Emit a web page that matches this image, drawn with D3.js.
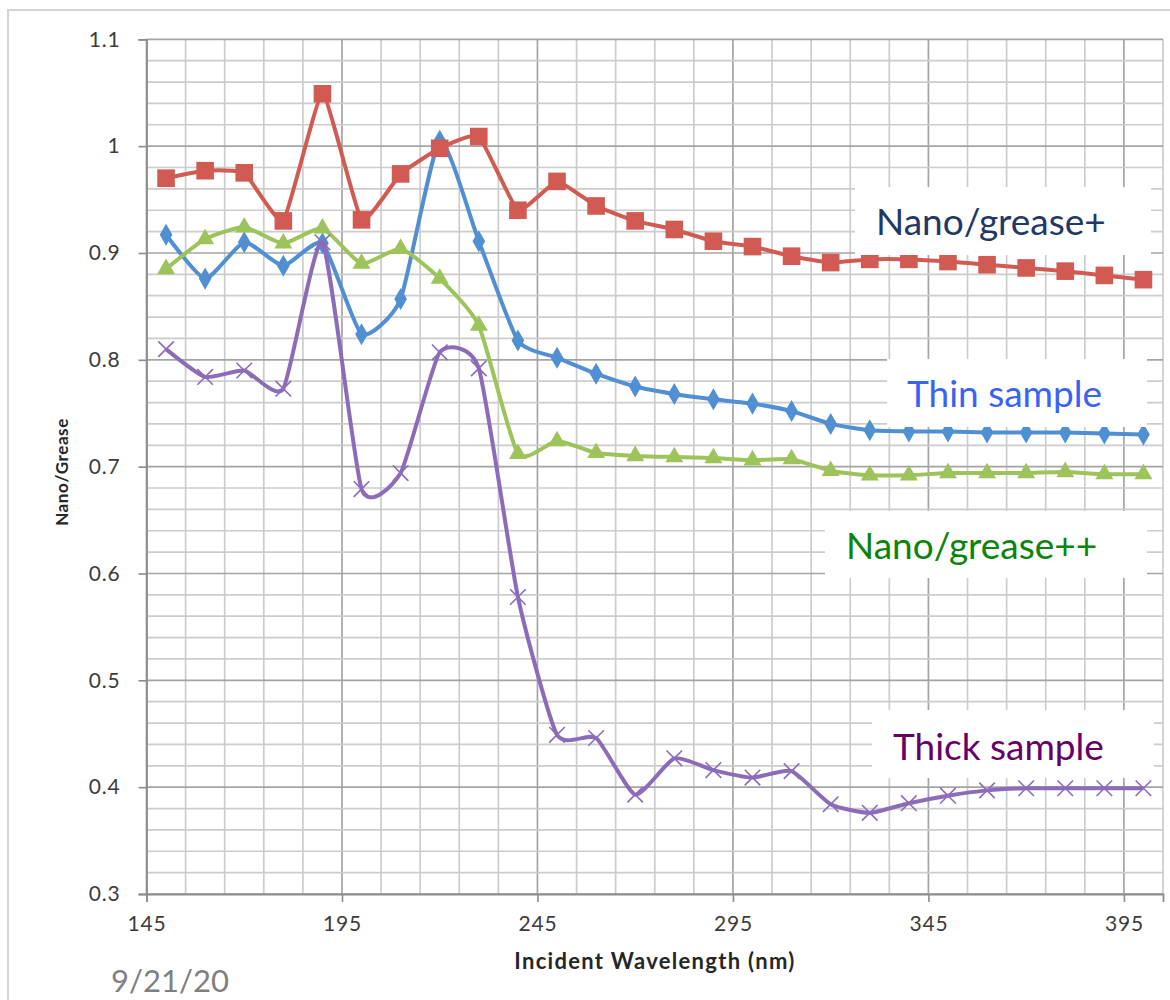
<!DOCTYPE html>
<html>
<head>
<meta charset="utf-8">
<script src="https://cdn.jsdelivr.net/npm/d3@7"></script>
<style>
  html, body { margin: 0; padding: 0; background: #fff; }
  svg { display: block; }
</style>
</head>
<body>
<svg id="chart" width="1170" height="1000"></svg>
<script>
// ---- data ----
const wavelengths = [150,160,170,180,190,200,210,220,230,240,250,260,270,280,290,300,310,320,330,340,350,360,370,380,390,400];
const thinSample  = [0.917,0.876,0.910,0.888,0.909,0.824,0.857,1.005,0.911,0.818,0.802,0.787,0.775,0.768,0.763,0.759,0.752,0.740,0.734,0.733,0.733,0.732,0.732,0.732,0.731,0.730];
const nanoPlus    = [0.970,0.977,0.975,0.930,1.049,0.931,0.974,0.998,1.009,0.940,0.967,0.944,0.930,0.922,0.911,0.906,0.897,0.891,0.894,0.894,0.892,0.889,0.886,0.883,0.879,0.875];
const nanoPlusPlus= [0.885,0.913,0.924,0.909,0.923,0.890,0.904,0.876,0.832,0.712,0.724,0.713,0.710,0.709,0.708,0.706,0.707,0.696,0.692,0.692,0.694,0.694,0.694,0.695,0.693,0.693];
const thickSample = [0.810,0.784,0.790,0.773,0.910,0.679,0.694,0.807,0.792,0.578,0.449,0.446,0.393,0.427,0.416,0.409,0.415,0.384,0.376,0.385,0.392,0.397,0.399,0.399,0.399,0.399];

const xTickLabels = [145,195,245,295,345,395];
const yTickLabels = [0.3,0.4,0.5,0.6,0.7,0.8,0.9,1.0,1.1];

const labelTexts = ["Nano/grease+","Thin sample","Nano/grease++","Thick sample"];

// ---- layout ----
const svg = d3.select("#chart");
const L = 146.5, R = 1163, T = 39.3, B = 894;
const x = d3.scaleLinear().domain([145,405]).range([L,R]);
const y = d3.scaleLinear().domain([0.3,1.1]).range([B,T]);

svg.append("rect").attr("width",1170).attr("height",1000).attr("fill","#fff");
// outer chart frame
svg.append("rect").attr("x",8).attr("y",10).attr("width",1200).attr("height",1040)
  .attr("fill","none").attr("stroke","#d4d4d4").attr("stroke-width",2);

// gridlines
const minorX = d3.range(145,406,10);
const minorY = d3.range(0,41).map(i => 0.3 + i*0.02);
const g = svg.append("g");
g.selectAll(".vx").data(minorX).join("line")
  .attr("x1",d=>x(d)).attr("x2",d=>x(d)).attr("y1",T).attr("y2",B)
  .attr("stroke", d => ((d-145)%50===0) ? "#a4a4a4" : "#cccccc")
  .attr("stroke-width",1.7);
g.selectAll(".hy").data(minorY).join("line")
  .attr("x1",L).attr("x2",R).attr("y1",d=>y(d)).attr("y2",d=>y(d))
  .attr("stroke", (d,i) => (i%5===0) ? "#a4a4a4" : "#cccccc")
  .attr("stroke-width",1.7);

// axes
const fontTick = "Lato, 'Open Sans', sans-serif";
const xAxis = d3.axisBottom(x).tickValues(xTickLabels).tickSize(8).tickPadding(14).tickFormat(d3.format("d"));
const yAxis = d3.axisLeft(y).tickValues(yTickLabels).tickSize(8).tickPadding(18)
  .tickFormat(d => d3.format(".1f")(d).replace(/\.0$/,""));
const gx = svg.append("g").attr("transform",`translate(0,${B})`).call(xAxis);
const gy = svg.append("g").attr("transform",`translate(${L},0)`).call(yAxis);
[gx,gy].forEach(a => {
  a.select(".domain").attr("stroke","#8c8c8c").attr("stroke-width",1.8);
  a.selectAll(".tick line").attr("stroke","#8c8c8c").attr("stroke-width",1.6);
  a.selectAll(".tick text").attr("fill","#3c3c3c").style("font-family",fontTick)
    .style("font-size","21px").style("letter-spacing","0.8px");
});

// axis titles
svg.append("text").attr("x",655).attr("y",969).attr("text-anchor","middle")
  .style("font-family",fontTick).style("font-weight","bold").style("font-size","22px")
  .style("letter-spacing","1.3px")
  .attr("fill","#262626").text("Incident Wavelength (nm)");
svg.append("text").attr("transform","translate(68,472) rotate(-90)").attr("text-anchor","middle")
  .style("font-family",fontTick).style("font-weight","bold").style("font-size","17px")
  .style("letter-spacing","0.6px")
  .attr("fill","#262626").text("Nano/Grease");

// series
const series = [
  {name:"Thin sample", values:thinSample, color:"#4f8fd2", marker:"diamond", tension:0.45},
  {name:"Nano/grease+", values:nanoPlus, color:"#d15b52", marker:"square", tension:0.6},
  {name:"Nano/grease++", values:nanoPlusPlus, color:"#9cc45a", marker:"triangle", tension:0.45},
  {name:"Thick sample", values:thickSample, color:"#8c6cb8", marker:"cross", tension:0.45}
];
series.forEach(s => {
  const line = d3.line().x(d=>x(d[0])).y(d=>y(d[1])).curve(d3.curveCardinal.tension(s.tension));
  const pts = wavelengths.map((w,i)=>[w,s.values[i]]);
  const sg = svg.append("g");
  sg.append("path").attr("d",line(pts)).attr("fill","none").attr("stroke",s.color)
    .attr("stroke-width",4).attr("stroke-linejoin","round");
  let sym;
  if (s.marker==="square") sym = d3.symbol(d3.symbolSquare, 310);
  else if (s.marker==="diamond") sym = d3.symbol(d3.symbolDiamond, 140);
  else if (s.marker==="triangle") sym = d3.symbol(d3.symbolTriangle, 140);
  else sym = d3.symbol(d3.symbolX, 160);
  sg.selectAll("path.m").data(pts).join("path").attr("class","m")
    .attr("transform",d=>`translate(${x(d[0])},${y(d[1])})`)
    .attr("d",sym)
    .attr("fill", s.marker==="cross" ? "none" : s.color)
    .attr("stroke", s.color)
    .attr("stroke-width", s.marker==="cross" ? 1.6 : 0);
});

// text labels with white boxes
const labels = [
  {text:labelTexts[0], color:"#1f3864", box:[855,187,296,68], tx:876, ty:235},
  {text:labelTexts[1], color:"#3a62f5", box:[887,359,260,68], tx:907, ty:407},
  {text:labelTexts[2], color:"#0a840a", box:[825,511,322,67], tx:846, ty:559},
  {text:labelTexts[3], color:"#660066", box:[872,710,282,68], tx:893, ty:760}
];
labels.forEach(l => {
  svg.append("rect").attr("x",l.box[0]).attr("y",l.box[1]).attr("width",l.box[2]).attr("height",l.box[3]).attr("fill","#fff");
  svg.append("text").attr("x",l.tx).attr("y",l.ty).attr("fill",l.color)
    .style("font-family","Lato, 'Open Sans', sans-serif").style("font-size","37px").text(l.text);
});

// date footer
svg.append("text").attr("x",111).attr("y",992).attr("fill","#808080")
  .style("font-family","Lato, 'Open Sans', sans-serif").style("font-size","31px").text("9/21/20");
</script>
</body>
</html>
